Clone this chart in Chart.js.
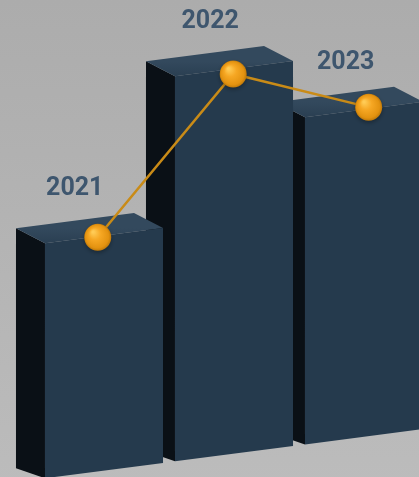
<!DOCTYPE html>
<html>
<head>
<meta charset="utf-8">
<script src="https://cdn.jsdelivr.net/npm/chart.js@4.4.1/dist/chart.umd.min.js"></script>
<style>
  html, body { margin: 0; padding: 0; overflow: hidden; background: #afafaf; }
  #wrap { width: 440px; height: 490px; }
</style>
</head>
<body>
<div id="wrap"><canvas id="chart" width="440" height="490"></canvas></div>
<script>
const years = ['2021', '2022', '2023'];
const barValues = [61, 100, 85];
const trendValues = [61, 99, 86];

// fake perspective: everything leans up to the right, boxes have depth up-left
const SLANT = 0.13;
const DEPTH = { dx: -29, dy: -15 };
// things sitting on the lids drift right the further right they are
const DRIFT = 0.042;

function lean(area, x, y) { return y - SLANT * (x - area.left); }
function drift(area, x) { return DRIFT * (x - area.left) - 9; }

function box(ctx, area, bar) {
  const L = bar.x - bar.width / 2, R = bar.x + bar.width / 2;
  const tl = lean(area, L, bar.y), tr = lean(area, R, bar.y);
  const bl = lean(area, L, bar.base), br = lean(area, R, bar.base);

  // left side
  ctx.fillStyle = '#0a1016';
  ctx.beginPath();
  ctx.moveTo(L, tl);
  ctx.lineTo(L + DEPTH.dx, tl + DEPTH.dy);
  ctx.lineTo(L + DEPTH.dx, bl - 10);
  ctx.lineTo(L, bl);
  ctx.closePath();
  ctx.fill();

  // lid
  const g = ctx.createLinearGradient(0, tl + DEPTH.dy, 0, tl);
  g.addColorStop(0, '#33495d');
  g.addColorStop(1, '#2a3f52');
  ctx.fillStyle = g;
  ctx.beginPath();
  ctx.moveTo(L, tl);
  ctx.lineTo(L + DEPTH.dx, tl + DEPTH.dy);
  ctx.lineTo(R + DEPTH.dx, tr + DEPTH.dy);
  ctx.lineTo(R, tr);
  ctx.closePath();
  ctx.fill();

  // front
  ctx.fillStyle = '#253a4d';
  ctx.beginPath();
  ctx.moveTo(L, tl);
  ctx.lineTo(R, tr);
  ctx.lineTo(R, br);
  ctx.lineTo(L, bl);
  ctx.closePath();
  ctx.fill();
}

function ball(ctx, x, y, r) {
  const g = ctx.createRadialGradient(x - r * 0.35, y - r * 0.4, 1, x, y, r);
  g.addColorStop(0, '#ffcb55');
  g.addColorStop(0.4, '#f6a723');
  g.addColorStop(0.85, '#e39210');
  g.addColorStop(1, '#bf790a');
  ctx.save();
  ctx.shadowColor = 'rgba(0,0,0,0.3)';
  ctx.shadowBlur = 4;
  ctx.shadowOffsetY = 2;
  ctx.fillStyle = g;
  ctx.beginPath();
  ctx.arc(x, y, r, 0, Math.PI * 2);
  ctx.fill();
  ctx.restore();
}

const scene3d = {
  id: 'scene3d',
  beforeDraw(chart) {
    const { ctx, width, height } = chart;
    const bg = ctx.createLinearGradient(0, 0, 0, height);
    bg.addColorStop(0, '#acacac');
    bg.addColorStop(1, '#bcbcbc');
    ctx.save();
    ctx.fillStyle = bg;
    ctx.fillRect(0, 0, width, height);
    ctx.restore();
  },
  beforeDatasetsDraw(chart) {
    const { ctx, chartArea } = chart;
    const bars = chart.getDatasetMeta(0).data;
    const pts = chart.getDatasetMeta(1).data;
    ctx.save();

    // boxes right to left so nearer ones overlap
    for (let i = bars.length - 1; i >= 0; i--) box(ctx, chartArea, bars[i]);

    // trend line and balls
    const p = pts.map(pt => ({
      x: pt.x + drift(chartArea, pt.x),
      y: lean(chartArea, pt.x, pt.y) + 1.5
    }));
    ctx.strokeStyle = '#c98b17';
    ctx.lineWidth = 2.5;
    ctx.beginPath();
    p.forEach((q, i) => i ? ctx.lineTo(q.x, q.y) : ctx.moveTo(q.x, q.y));
    ctx.stroke();
    p.forEach(q => ball(ctx, q.x, q.y, 13.5));

    // year captions
    ctx.fillStyle = '#3e566e';
    ctx.font = 'bold 25px Roboto, "Liberation Sans", sans-serif';
    ctx.textAlign = 'center';
    ctx.textBaseline = 'middle';
    bars.forEach((b, i) => {
      ctx.fillText(years[i], b.x - 23 + drift(chartArea, b.x), lean(chartArea, b.x, b.y) - 47);
    });
    ctx.restore();
    return false;
  }
};

new Chart(document.getElementById('chart'), {
  data: {
    labels: years,
    datasets: [
      { type: 'bar', data: barValues, barPercentage: 0.908, categoryPercentage: 1 },
      { type: 'line', data: trendValues }
    ]
  },
  options: {
    responsive: false,
    animation: false,
    events: [],
    layout: { padding: { left: 39, right: 11, top: 94, bottom: 11 } },
    plugins: { legend: { display: false }, tooltip: { enabled: false } },
    scales: {
      x: { display: false, offset: true },
      y: { display: false, min: 0, max: 100 }
    }
  },
  plugins: [scene3d]
});
</script>
</body>
</html>
